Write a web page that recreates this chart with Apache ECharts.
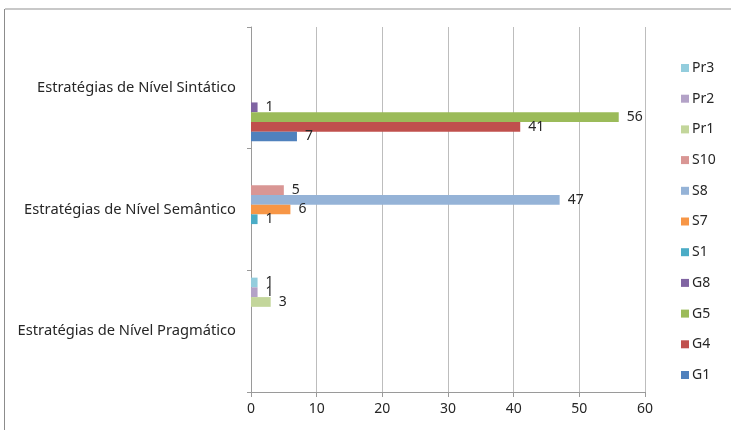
<!DOCTYPE html>
<html>
<head>
<meta charset="utf-8">
<script src="https://cdn.jsdelivr.net/npm/echarts@6/dist/echarts.min.js"></script>
<style>
html,body{margin:0;padding:0;background:#fff;}
#c{width:731px;height:430px;}
</style>
</head>
<body>
<div id="c"></div>
<script>
// Categories bottom -> top (ECharts category axis runs from bottom)
var categories = ['Estratégias de Nível Pragmático', 'Estratégias de Nível Semântico', 'Estratégias de Nível Sintático'];
var seriesNames = ['G1', 'G4', 'G5', 'G8', 'S1', 'S7', 'S8', 'S10', 'Pr1', 'Pr2', 'Pr3'];
var G1  = [0, 0, 7];
var G4  = [0, 0, 41];
var G5  = [0, 0, 56];
var G8  = [0, 0, 1];
var S1  = [0, 1, 0];
var S7  = [0, 6, 0];
var S8  = [0, 47, 0];
var S10 = [0, 5, 0];
var Pr1 = [3, 0, 0];
var Pr2 = [1, 0, 0];
var Pr3 = [1, 0, 0];
var xTicks = [0, 10, 20, 30, 40, 50, 60];

var values = [G1, G4, G5, G8, S1, S7, S8, S10, Pr1, Pr2, Pr3];
var colors = ['#4F81BD', '#C0504D', '#9BBB59', '#8064A2', '#4BACC6', '#F79646', '#95B3D7', '#D99694', '#C3D69B', '#B3A2C7', '#93CDDD'];
var FONT = 'Noto Sans';

var series = seriesNames.map(function (name, i) {
  return {
    name: name,
    type: 'bar',
    data: values[i],
    barGap: '0%',
    barCategoryGap: '12%',
    itemStyle: { color: colors[i] },
    label: {
      show: true,
      position: 'right',
      distance: 8,
      fontFamily: FONT,
      fontSize: 14,
      color: '#262626',
      formatter: function (p) { return p.value === 0 ? '' : String(p.value); }
    },
    emphasis: { disabled: true }
  };
}).reverse(); // first series (G1) drawn at the bottom of each band

var chart = echarts.init(document.getElementById('c'), null, { renderer: 'canvas' });
chart.setOption({
  animation: false,
  backgroundColor: '#ffffff',
  grid: { left: 251, right: 86, top: 27, bottom: 38, containLabel: false },
  xAxis: {
    type: 'value',
    min: xTicks[0],
    max: xTicks[xTicks.length - 1],
    interval: xTicks[1] - xTicks[0],
    axisLine: { show: true, lineStyle: { color: '#9a9a9a', width: 1 } },
    axisTick: { show: true, length: 5, lineStyle: { color: '#9a9a9a' } },
    axisLabel: { fontFamily: FONT, fontSize: 14, color: '#262626', margin: 10 },
    splitLine: { show: true, lineStyle: { color: '#bdbdbd', width: 1 } }
  },
  yAxis: {
    type: 'category',
    data: categories,
    axisLine: { show: true, lineStyle: { color: '#9a9a9a', width: 1 } },
    axisTick: { show: true, length: 4, alignWithLabel: false, lineStyle: { color: '#9a9a9a' } },
    axisLabel: { fontFamily: FONT, fontSize: 14.7, color: '#262626', margin: 15 },
    splitLine: { show: false }
  },
  legend: {
    orient: 'vertical',
    left: 681,
    top: 61,
    padding: 0,
    data: seriesNames.slice().reverse(),
    itemWidth: 8,
    itemHeight: 8,
    itemGap: 16.7,
    icon: 'rect',
    selectedMode: false,
    textStyle: { fontFamily: FONT, fontSize: 14, color: '#262626', lineHeight: 14, padding: [0, 0, 0, -2] }
  },
  graphic: [
    { type: 'line', shape: { x1: 5, y1: 9, x2: 731, y2: 9 }, style: { stroke: '#c8c8c8', lineWidth: 2 }, silent: true },
    { type: 'line', shape: { x1: 4.5, y1: 9, x2: 4.5, y2: 430 }, style: { stroke: '#8c8c8c', lineWidth: 1 }, silent: true }
  ],
  series: series
});
</script>
</body>
</html>
